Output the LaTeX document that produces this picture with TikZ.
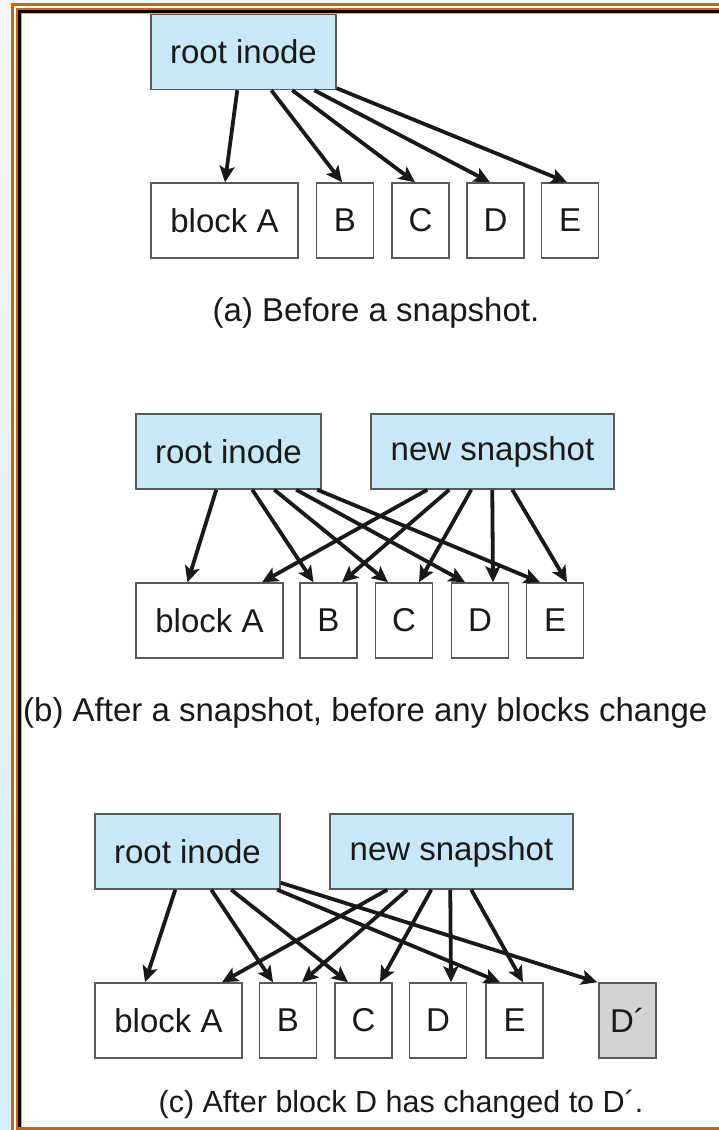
\documentclass[tikz,border=0pt]{standalone}
\usepackage{fontspec}
\setmainfont{Liberation Sans}
\usepackage{tikz}
\usetikzlibrary{arrows.meta}
\definecolor{inodeblue}{RGB}{200,232,248}
\definecolor{frameorange}{RGB}{204,102,0}
\definecolor{newblock}{RGB}{208,210,212}

\begin{document}
\begin{tikzpicture}[x=1pt, y=-1pt]
    \tikzstyle{inode} = [rectangle, draw=black!65, line width=1.5pt, fill=inodeblue, minimum height=75pt, inner sep=0pt, font=\fontsize{33}{36}\selectfont, text=black!90]
    \tikzstyle{blk} = [rectangle, draw=black!65, line width=1.5pt, fill=white, minimum height=75pt, minimum width=57pt, inner sep=0pt, font=\fontsize{33}{36}\selectfont, text=black!90]
    \tikzstyle{ptr} = [line width=3.8pt, black!90, -{Stealth[length=16pt, width=15pt, inset=3.5pt]}]
    \tikzstyle{caption} = [anchor=base, inner sep=0pt, font=\fontsize{33}{36}\selectfont, text=black!90]
    \useasboundingbox (0,0) rectangle (719,1130);
    % frame
    \fill[white] (0,0) rectangle (719,1130);
    \shade[top color=black!4, bottom color=inodeblue!80] (0,0) rectangle (11,1130);
    \fill[black!4] (0,0) rectangle (719,3);
    \draw[frameorange, line width=3pt] (12.5,1130) -- (12.5,4) -- (719,4);
    \draw[frameorange, line width=2.5pt] (719,1128.5) -- (17,1128.5) -- (17,9) -- (719,9);
    \draw[black, line width=3pt] (19.5,1127) -- (19.5,11.5) -- (719,11.5);
    \draw[black!30, line width=1pt] (21.5,1127) -- (21.5,13.5) -- (719,13.5);

    % (a) before a snapshot
    \node[inode, minimum width=185pt] (ra) at (243.5,52) {root inode};
    \node[blk, minimum width=147pt] (a-A) at (224.5,220.5) {block A};
    \foreach \n/\x in {B/345, C/420.5, D/495.5, E/570} {
        \node[blk] (a-\n) at (\x,220.5) {\n};
    }
    \foreach \s/\t/\e in {87/A/0.5, 121/B/-3, 142/C/-5.5, 164/D/-5.5} {
        \draw[ptr] ([xshift=\s]ra.south west) -- ([xshift=\e]a-\t.north);
    }
    \draw[ptr] ([yshift=2]ra.south east) -- ([xshift=-3]a-E.north);
    \node[caption] (capa) at (376,321) {(a) Before a snapshot.};

    % (b) after a snapshot
    \node[inode, minimum width=185pt] (rb) at (228.5,451.5) {root inode};
    \node[inode, minimum width=243pt] (sb) at (492.5,451.5) {new snapshot};
    \node[blk, minimum width=147pt] (b-A) at (209.5,620.5) {block A};
    \foreach \n/\x in {B/328.5, C/404, D/480, E/555} {
        \node[blk] (b-\n) at (\x,620.5) {\n};
    }
    \foreach \s/\t/\e in {81/A/-22, 117/B/-15, 139/C/-16, 161/D/-15, 182/E/-15} {
        \draw[ptr] ([xshift=\s]rb.south west) -- ([xshift=\e]b-\t.north);
    }
    \foreach \s/\t/\e in {57/A/52.5, 79/B/13.5, 101/C/15, 122/D/13, 142/E/12} {
        \draw[ptr] ([xshift=\s]sb.south west) -- ([xshift=\e]b-\t.north);
    }
    \node[caption, anchor=base west] (capb) at (23,721) {(b) After a snapshot, before any blocks change};

    % (c) after D is changed
    \node[inode, minimum width=185pt] (rc) at (187.5,851.5) {root inode};
    \node[inode, minimum width=243pt] (sc) at (451.5,851.5) {new snapshot};
    \node[blk, minimum width=147pt] (c-A) at (168.5,1020.5) {block A};
    \foreach \n/\x in {B/288, C/363.5, D/438, E/514.5} {
        \node[blk] (c-\n) at (\x,1020.5) {\n};
    }
    \node[blk, fill=newblock] (c-Dp) at (627.5,1020.5) {D´};
    \foreach \s/\t/\e in {81/A/-23.5, 117/B/-15, 137/C/-15.5, 183/E/-14.5} {
        \draw[ptr] ([xshift=\s]rc.south west) -- ([xshift=\e]c-\t.north);
    }
    \draw[ptr] ([yshift=7]rc.south east) -- ([xshift=-1]c-Dp.north west);
    \foreach \s/\t/\e in {58/A/53.5, 78/B/14, 102/C/16.5, 121/D/13, 142/E/8.5} {
        \draw[ptr] ([xshift=\s]sc.south west) -- ([xshift=\e]c-\t.north);
    }
    \node[caption, font=\fontsize{30.5}{34}\selectfont] (capc) at (401,1112) {(c) After block D has changed to D´.};
\end{tikzpicture}
\end{document}
